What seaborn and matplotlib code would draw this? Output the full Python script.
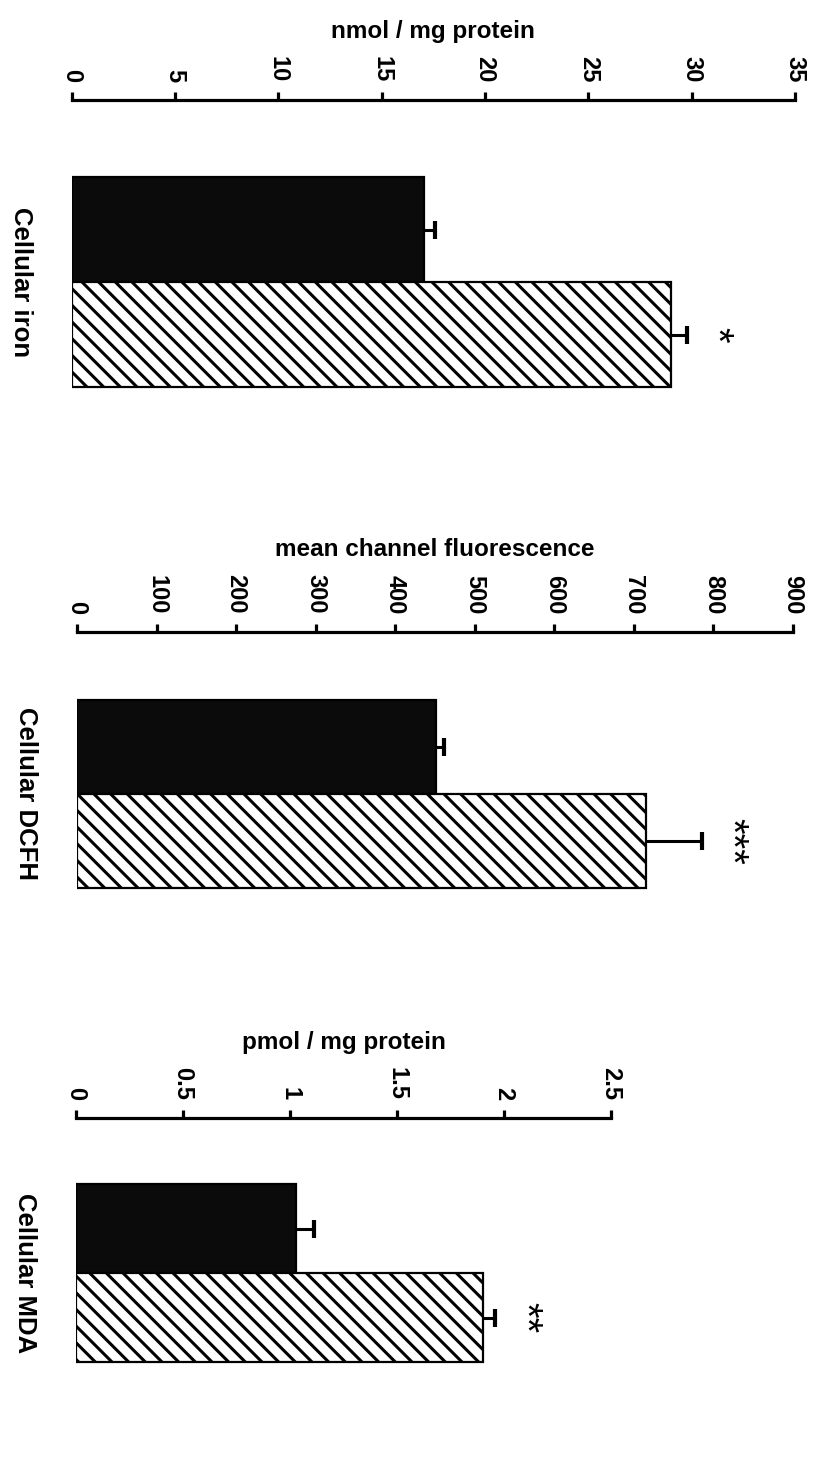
import numpy as np
import pandas as pd
import matplotlib
matplotlib.use("Agg")
import matplotlib.pyplot as plt
import seaborn as sns

# ---- data -------------------------------------------------------------
panels = ["Cellular iron", "Cellular DCFH", "Cellular MDA"]
groups = ["control", "treated"]
units = ["nmol / mg protein", "mean channel fluorescence", "pmol / mg protein"]

iron_means = [17.05, 29.0]
iron_errs = [0.53, 0.77]
dcfh_means = [451, 715]
dcfh_errs = [10, 70]
mda_means = [1.03, 1.90]
mda_errs = [0.08, 0.06]

significance = ["*", "***", "**"]

iron_ticks = [0, 5, 10, 15, 20, 25, 30, 35]
dcfh_ticks = [0, 100, 200, 300, 400, 500, 600, 700, 800, 900]
mda_ticks = [0, 0.5, 1, 1.5, 2, 2.5]
mda_ticklabels = ["0", "0.5", "1", "1.5", "2", "2.5"]

# ---- style ------------------------------------------------------------
sns.set_theme(style="white")
plt.rcParams["font.family"] = ["Liberation Sans", "DejaVu Sans"]
plt.rcParams["text.color"] = "black"
plt.rcParams["axes.labelcolor"] = "black"
plt.rcParams["xtick.color"] = "black"
plt.rcParams["ytick.color"] = "black"
plt.rcParams["hatch.linewidth"] = 2.2
plt.rcParams["hatch.color"] = "black"

W, H = 813, 1464
fig = plt.figure(figsize=(W / 100, H / 100), dpi=100)

# pixel layout of each panel: axis line y, bar top, bar bottom, x of 0, x of max
layout = [
    (100, 177, 387, 71.7, 795),
    (632, 700, 888, 77, 793),
    (1118, 1184, 1362, 76, 611),
]

means = [iron_means, dcfh_means, mda_means]
errs = [iron_errs, dcfh_errs, mda_errs]
ticks = [iron_ticks, dcfh_ticks, mda_ticks]
ticklabels = [[str(t) for t in iron_ticks], [str(t) for t in dcfh_ticks], mda_ticklabels]

for i in range(3):
    axis_y, top, bottom, x0, x1 = layout[i]
    u = (bottom - top) / 0.8
    ax = fig.add_axes([x0 / W, 1 - (bottom + 10) / H, (x1 - x0) / W, (bottom + 10 - axis_y) / H])

    df = pd.DataFrame({"panel": [panels[i]] * 2, "group": groups, "value": means[i]})
    sns.barplot(data=df, y="panel", x="value", hue="group", orient="h",
                palette=["#0b0b0b", "white"], width=0.8, gap=0, dodge=True,
                errorbar=None, legend=False, ax=ax,
                edgecolor="black", linewidth=1.6)
    bars = [p for p in ax.patches]
    bars[1].set_hatch("\\\\")
    bars[1].set_facecolor("white")

    ys = np.array([-0.2, 0.2])
    vals = np.array(means[i], dtype=float)
    e = np.array(errs[i], dtype=float)
    ax.errorbar(vals, ys, xerr=[np.zeros(2), e], fmt="none", ecolor="black",
                elinewidth=2.2, capsize=0, zorder=3)
    ax.plot(vals + e, ys, ls="none", marker="|", ms=13, mew=3, color="black", zorder=3)

    ax.annotate(significance[i], xy=(vals[1] + e[1], ys[1]), xytext=(21, 0),
                textcoords="offset points", rotation=-90, ha="center", va="center",
                fontsize=29, color="black")

    ax.set_xlim(ticks[i][0], ticks[i][-1])
    ax.set_ylim(0.4 + 10 / u, -0.4 - (top - axis_y) / u)

    for s in ["left", "right", "bottom"]:
        ax.spines[s].set_visible(False)
    ax.spines["top"].set_visible(True)
    ax.spines["top"].set_linewidth(2.3)
    ax.spines["top"].set_color("black")

    ax.xaxis.tick_top()
    ax.xaxis.set_label_position("top")
    ax.set_xticks(ticks[i])
    ax.set_xticklabels(ticklabels[i], rotation=-90, ha="center", va="bottom",
                       fontsize=17, fontweight="bold")
    ax.tick_params(axis="x", direction="out", length=6, width=2.3, color="black",
                   pad=7, top=True, bottom=False, labeltop=True, labelbottom=False)
    ax.set_xlabel(units[i], fontsize=17.5, fontweight="bold", labelpad=13)

    ax.set_yticks([0])
    ax.set_yticklabels([panels[i]], rotation=-90, ha="right", va="center",
                       fontsize=18.5, fontweight="bold")
    ax.tick_params(axis="y", length=0, pad=28)
    ax.set_ylabel("")
    ax.set_facecolor("white")

fig.savefig("out.png", dpi=100, facecolor="white")
